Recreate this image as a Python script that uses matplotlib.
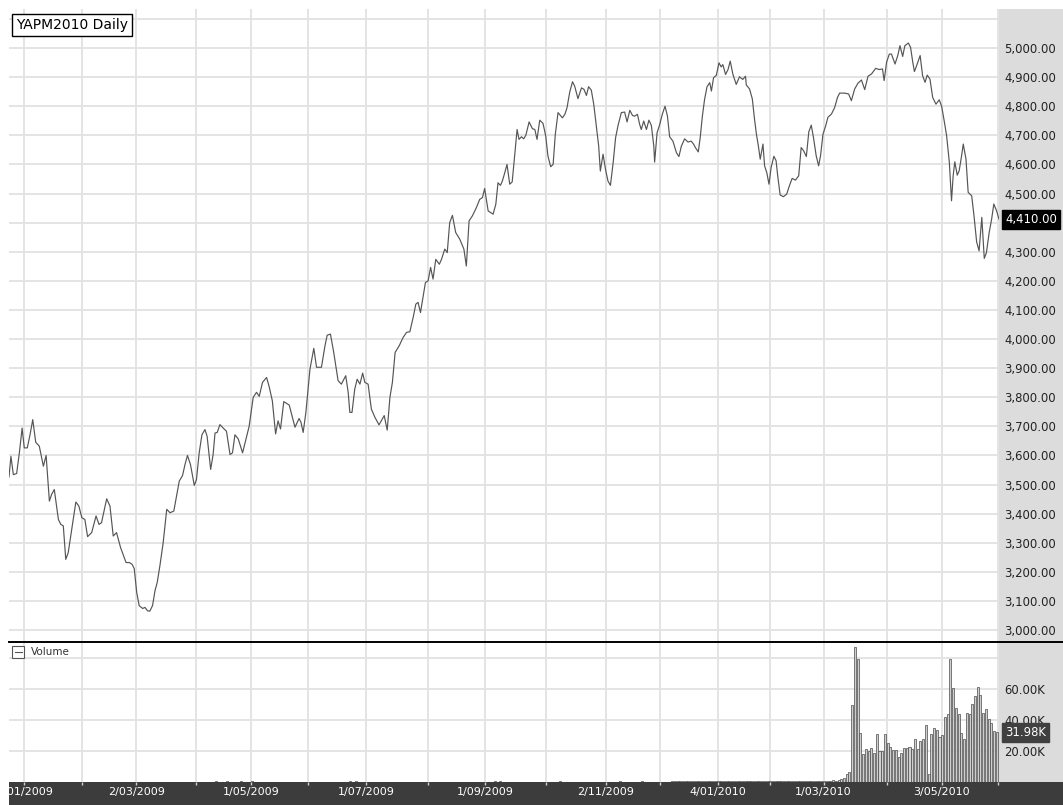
import matplotlib
matplotlib.use('Agg')
import matplotlib.pyplot as plt
from matplotlib.patches import Rectangle
from matplotlib.lines import Line2D
from matplotlib.transforms import blended_transform_factory, Bbox

W, H = 1063, 805

# session index (0 = first session shown) and closing price
price_days = [
    0.0, 0.7, 1.6, 2.8, 3.8, 4.8, 5.6, 6.7, 7.7, 8.7, 9.8, 11.1, 12.6, 13.6, 14.8, 15.6, 16.6,
    18.1, 19.0, 19.9, 20.8, 21.7, 23.0, 24.5, 25.6, 26.7, 27.8, 28.8, 30.3, 31.9, 33.0, 33.9,
    35.8, 37.0, 38.2, 39.4, 40.9, 42.9, 44.1, 45.1, 45.9, 46.8, 47.7, 49.0, 49.8, 50.8, 51.6,
    52.6, 53.5, 54.3, 55.3, 56.5, 57.8, 59.0, 60.4, 61.4, 62.4, 63.6, 64.5, 65.4, 66.5, 67.9,
    68.7, 69.7, 70.7, 71.8, 72.6, 73.9, 74.8, 75.5, 76.3, 77.3, 78.5, 79.7, 81.0, 81.9, 82.8,
    84.0, 85.6, 87.1, 88.0, 89.5, 90.7, 91.7, 92.9, 94.4, 95.4, 96.5, 97.7, 98.6, 99.5, 100.7,
    102.7, 104.8, 106.3, 107.0, 107.8, 108.8, 110.3, 111.7, 112.7, 114.5, 115.8, 116.6, 117.8,
    119.0, 120.6, 121.8, 123.4, 124.3, 124.9, 125.7, 126.7, 127.6, 128.6, 129.6, 130.4, 131.6,
    132.8, 134.1, 135.6, 137.5, 138.6, 139.6, 140.5, 141.5, 143.0, 144.4, 145.7, 146.9, 148.1,
    149.1, 149.9, 150.8, 151.8, 152.6, 153.6, 154.5, 155.4, 156.4, 157.7, 158.5, 159.7, 160.6,
    161.5, 162.5, 163.7, 165.2, 166.7, 167.6, 168.6, 169.8, 171.3, 172.5, 173.5, 174.3, 175.6,
    177.4, 178.4, 179.2, 180.1, 180.8, 181.7, 182.5, 183.5, 184.4, 185.3, 186.2, 186.9, 187.8,
    188.6, 189.4, 190.6, 191.8, 192.7, 193.5, 194.5, 195.7, 196.7, 197.5, 198.5, 199.4, 200.2,
    201.2, 202.1, 202.8, 203.7, 204.5, 205.5, 206.5, 207.3, 208.5, 209.8, 210.7, 211.6, 212.4,
    213.4, 214.3, 215.3, 216.1, 216.7, 217.7, 218.6, 219.5, 220.4, 221.4, 222.3, 223.2, 224.4,
    225.6, 226.5, 227.5, 228.5, 229.3, 230.3, 231.1, 231.7, 232.6, 233.6, 234.5, 235.4, 236.3,
    236.6, 237.5, 238.5, 239.4, 240.4, 241.3, 242.1, 243.3, 244.6, 245.5, 246.4, 247.6, 248.8,
    250.0, 250.9, 251.6, 252.6, 253.3, 254.1, 254.9, 255.8, 256.8, 257.4, 258.2, 259.2, 260.2,
    261.0, 261.6, 262.6, 263.5, 264.3, 265.3, 266.5, 267.7, 268.9, 269.9, 270.2, 271.4, 272.4,
    273.2, 273.9, 274.6, 275.3, 276.3, 276.9, 277.7, 278.5, 279.3, 280.3, 281.1, 281.7, 282.6,
    283.8, 285.0, 286.0, 287.0, 288.2, 289.4, 290.3, 291.2, 292.2, 293.1, 294.0, 294.8, 295.8,
    296.7, 297.4, 298.3, 299.3, 300.1, 301.4, 302.6, 303.6, 304.4, 306.2, 307.7, 308.7, 309.9,
    311.1, 312.4, 313.6, 314.8, 316.1, 317.6, 318.9, 320.1, 320.7, 321.6, 322.6, 323.4, 324.7,
    325.7, 326.5, 327.5, 328.3, 329.6, 330.4, 331.2, 331.8, 332.6, 333.9, 334.8, 335.7, 336.5,
    337.5, 338.5, 339.7, 340.9, 341.8, 342.6, 343.6, 344.6, 345.4, 346.0, 346.6, 347.5, 348.2,
    349.1, 349.7, 350.7, 351.5, 352.8, 353.7, 354.6, 355.5, 356.5, 357.4, 358.2, 359.2, 360.1,
    360.9, 361.9, 362.8,
]
price_close = [
    3526, 3597, 3534, 3538, 3609, 3694, 3626, 3626, 3671, 3723, 3645, 3632, 3563, 3600, 3443, 3466, 3483,
    3380, 3363, 3358, 3243, 3266, 3346, 3440, 3426, 3386, 3380, 3321, 3335, 3392, 3363, 3369,
    3451, 3426, 3323, 3335, 3283, 3232, 3232, 3226, 3211, 3129, 3084, 3074, 3078, 3066, 3065,
    3084, 3135, 3163, 3221, 3300, 3415, 3403, 3409, 3460, 3512, 3531, 3569, 3600, 3569, 3497,
    3517, 3609, 3671, 3689, 3666, 3552, 3603, 3677, 3679, 3706, 3694, 3683, 3603, 3609, 3671,
    3657, 3609, 3666, 3700, 3800, 3817, 3803, 3851, 3868, 3834, 3788, 3674, 3719, 3691, 3785,
    3773, 3697, 3727, 3714, 3679, 3748, 3897, 3968, 3903, 3903, 3977, 4013, 4017,
    3954, 3857, 3845, 3874, 3817, 3748, 3748, 3828, 3862, 3845, 3883, 3851, 3845,
    3759, 3731, 3705, 3737, 3687, 3800, 3851, 3954, 3977, 4005, 4023, 4025, 4074,
    4120, 4126, 4091, 4149, 4194, 4200, 4246, 4206, 4274, 4257, 4274, 4309, 4297,
    4400, 4425, 4366, 4343, 4309, 4251, 4406, 4423, 4452, 4480, 4486, 4517, 4440,
    4429, 4463, 4537, 4528, 4543, 4572, 4600, 4532, 4540, 4629, 4720, 4686, 4695,
    4688, 4700, 4746, 4723, 4720, 4686, 4752, 4741, 4697, 4629, 4592, 4600, 4703,
    4778, 4768, 4760, 4772, 4795, 4849, 4884, 4869, 4826, 4863, 4858, 4837, 4867,
    4855, 4806, 4726, 4663, 4577, 4635, 4583, 4543, 4528, 4606, 4692, 4734, 4778,
    4780, 4746, 4786, 4768, 4766, 4772, 4738, 4720, 4749, 4720, 4752, 4734, 4663,
    4608, 4709, 4738, 4772, 4800, 4766, 4695, 4680, 4640, 4627, 4663, 4688, 4677,
    4680, 4669, 4657, 4643, 4692, 4766, 4823, 4867, 4881, 4852, 4898, 4906, 4949,
    4935, 4943, 4909, 4926, 4955, 4909, 4875, 4901, 4892, 4903, 4873, 4859, 4825,
    4756, 4704, 4664, 4618, 4670, 4595, 4572, 4532, 4590, 4628, 4613, 4561, 4495,
    4489, 4498, 4527, 4552, 4546, 4561, 4658, 4647, 4627, 4712, 4735, 4693, 4630,
    4595, 4630, 4704, 4733, 4762, 4773, 4796, 4830, 4845, 4845, 4842, 4819, 4859,
    4879, 4890, 4857, 4903, 4911, 4930, 4926, 4928, 4888, 4951, 4979, 4979, 4945,
    4974, 5008, 4971, 5008, 5017, 5002, 4951, 4919, 4939, 4974, 4905, 4882, 4907,
    4893, 4830, 4807, 4822, 4799, 4756, 4699, 4607, 4475, 4561, 4609, 4563, 4578,
    4630, 4670, 4618, 4504, 4492, 4418, 4334, 4303, 4418, 4277, 4297, 4366, 4412,
    4464, 4441, 4412,
]

# volume in thousands of contracts
sparse_vol_days = [76, 80, 85, 89, 125, 127, 178, 180, 202, 224, 232]
sparse_vol = [0.4, 0.4, 0.4, 0.4, 0.4, 0.4, 0.4, 0.4, 0.4, 0.4, 0.4]
low_vol_start = 243
low_vol = [0.5, 0.4, 0.6, 0.5, 0.4, 0.7, 0.5, 0.6, 0.4, 0.5,
           0.6, 0.5, 0.4, 0.5, 0.7, 0.6, 0.5, 0.4, 0.6, 0.5,
           0.5, 0.6, 0.4, 0.5, 0.7, 0.5, 0.6, 0.5, 0.4, 0.6,
           0.5, 0.7, 0.6, 0.5, 0.6, 0.5, 0.7, 0.6, 0.5, 0.6,
           0.7, 0.6, 0.5, 0.7, 0.6, 0.8, 0.6, 0.7, 0.6, 0.7,
           0.8, 0.7, 0.6, 0.8, 0.7, 0.9, 0.8, 0.7, 0.9, 1.0,
           0.9, 1.2, 2.2, 2.6]
high_vol_start = 307
high_vol = [5, 6.5, 49.5, 87, 79.6, 31.8, 17.8, 21, 20, 22,
            18.5, 31, 19.8, 19.8, 31, 25, 22.8, 20.6, 20.4, 16,
            18.5, 22, 22, 22.4, 21, 27.5, 21.5, 26.7, 27.5, 36.6,
            5, 30.8, 35, 33.5, 29, 30, 42, 43.9, 79.6, 60.9,
            47.5, 44, 31.8, 27.5, 44.7, 44, 50, 55.5, 61.5, 56,
            44.7, 46.9, 40.4, 37.8, 32.9, 31.98]

grid_days = [5.6, 26.6, 46.6, 68.6, 88.6, 109.5, 130.8, 153.5, 174.4, 196.7,
             218.7, 238.5, 259.7, 278.8, 298.5, 321.6, 341.8, 362.3]
label_days = [5.6, 46.6, 88.6, 130.8, 174.4, 218.7, 259.7, 298.5, 341.8]
date_labels = ['2/01/2009', '2/03/2009', '1/05/2009', '1/07/2009', '1/09/2009',
               '2/11/2009', '4/01/2010', '1/03/2010', '3/05/2010']
price_ticks = list(range(3000, 5101, 100))
vol_ticks = [20, 40, 60, 80]
last_price = 4410.00
last_volume = 31.98

vol_days = sparse_vol_days + list(range(low_vol_start, low_vol_start + len(low_vol))) \
    + list(range(high_vol_start, high_vol_start + len(high_vol)))
vol_values = sparse_vol + low_vol + high_vol


def rect(x0, y0, x1, y1):
    # pixel box (origin top-left) -> figure fraction [left, bottom, width, height]
    return [x0 / W, 1 - y1 / H, (x1 - x0) / W, (y1 - y0) / H]


plt.rcParams['font.family'] = ['DejaVu Sans']
fig = plt.figure(figsize=(W / 100, H / 100), dpi=100)
fig.patch.set_facecolor('white')

r = rect(999, 9, W, 782)
fig.patches.append(Rectangle((r[0], r[1]), r[2], r[3], transform=fig.transFigure,
                             facecolor='#dcdcdc', edgecolor='none', zorder=-2))
r = rect(9, 782, W, H)
fig.patches.append(Rectangle((r[0], r[1]), r[2], r[3], transform=fig.transFigure,
                             facecolor='#3c3c3c', edgecolor='none', zorder=-2))

ax_p = fig.add_axes(rect(9, 9, 999, 642))
ax_v = fig.add_axes(rect(9, 642, 999, 782))
xmax = 362.8

# price panel
ax_p.plot(price_days, price_close, color='#555555', lw=0.85, zorder=3)
ax_p.set_xlim(0, xmax)
ax_p.set_ylim(2959, 5134)
ax_p.set_xticks(grid_days)
ax_p.tick_params(axis='x', length=0, labelbottom=False)
ax_p.yaxis.tick_right()
ax_p.set_yticks(price_ticks)
# 5,100 has a grid line but no label; 4,400 sits under the last-price box
ax_p.set_yticklabels([f'{v:,.2f}' if v not in (5100, 4400) else '' for v in price_ticks])
ax_p.tick_params(axis='y', length=0, pad=4, labelsize=8.4, labelcolor='#222222')
ax_p.grid(True, color='#e2e2e2', lw=1.3)
ax_p.set_axisbelow(True)
for s in ax_p.spines.values():
    s.set_visible(False)

tp = blended_transform_factory(ax_p.transAxes, ax_p.transData)
ax_p.text(1 + 6 / 990, last_price, f'{last_price:,.2f}', transform=tp, ha='left', va='center',
          color='white', fontsize=8.4, zorder=6, clip_on=False,
          bbox=dict(boxstyle='square,pad=0.25', fc='black', ec='black'))

fig.text(16 / W, 1 - 25 / H, 'YAPM2010 Daily', fontsize=10, ha='left', va='center', color='black',
         bbox=dict(boxstyle='square,pad=0.28', fc='white', ec='black', lw=1.0))

# volume panel
ax_v.bar(vol_days, vol_values, width=0.75, color='#cfcfcf', edgecolor='#4a4a4a', lw=0.5, zorder=3)
ax_v.set_xlim(0, xmax)
ax_v.set_ylim(0, 90.3)
ax_v.set_xticks(grid_days)
ax_v.tick_params(axis='x', length=2.5, width=1, color='#cfcfcf', direction='out', labelbottom=False)
ax_v.yaxis.tick_right()
ax_v.set_yticks(vol_ticks)
ax_v.set_yticklabels([f'{v:.2f}K' if v < 80 else '' for v in vol_ticks])
ax_v.tick_params(axis='y', length=0, pad=4, labelsize=8.4, labelcolor='#222222')
ax_v.grid(True, color='#e2e2e2', lw=1.3)
ax_v.set_axisbelow(True)
for s in ax_v.spines.values():
    s.set_visible(False)

tv = blended_transform_factory(ax_v.transAxes, ax_v.transData)
ax_v.text(1 + 6 / 990, last_volume, f'{last_volume:.2f}K', transform=tv, ha='left', va='center',
          color='white', fontsize=8.4, zorder=6, clip_on=False,
          bbox=dict(boxstyle='square,pad=0.25', fc='#404040', ec='#404040'))

# "Volume" caption with collapse box
r = rect(12, 646, 24, 658)
fig.patches.append(Rectangle((r[0], r[1]), r[2], r[3], transform=fig.transFigure,
                             facecolor='white', edgecolor='#555555', lw=0.8, zorder=5))
fig.add_artist(Line2D([14.5 / W, 21.5 / W], [1 - 652 / H] * 2, color='#555555', lw=0.8,
                      transform=fig.transFigure, zorder=6))
fig.text(31 / W, 1 - 652 / H, 'Volume', fontsize=7.5, ha='left', va='center', color='#333333')

# divider between panels
fig.add_artist(Line2D([9 / W, 1], [1 - 642 / H] * 2, color='black', lw=1.4,
                      transform=fig.transFigure, zorder=7))

# date labels in the bottom band
td = blended_transform_factory(ax_v.transData, fig.transFigure)
for d, lab in zip(label_days, date_labels):
    t = ax_v.text(d, 1 - 792 / H, lab, transform=td, ha='center', va='center',
                  color='white', fontsize=8, clip_on=True)
    t.set_clip_box(Bbox.from_extents(9, 0, W, 23))

fig.savefig('out.png', dpi=100)
